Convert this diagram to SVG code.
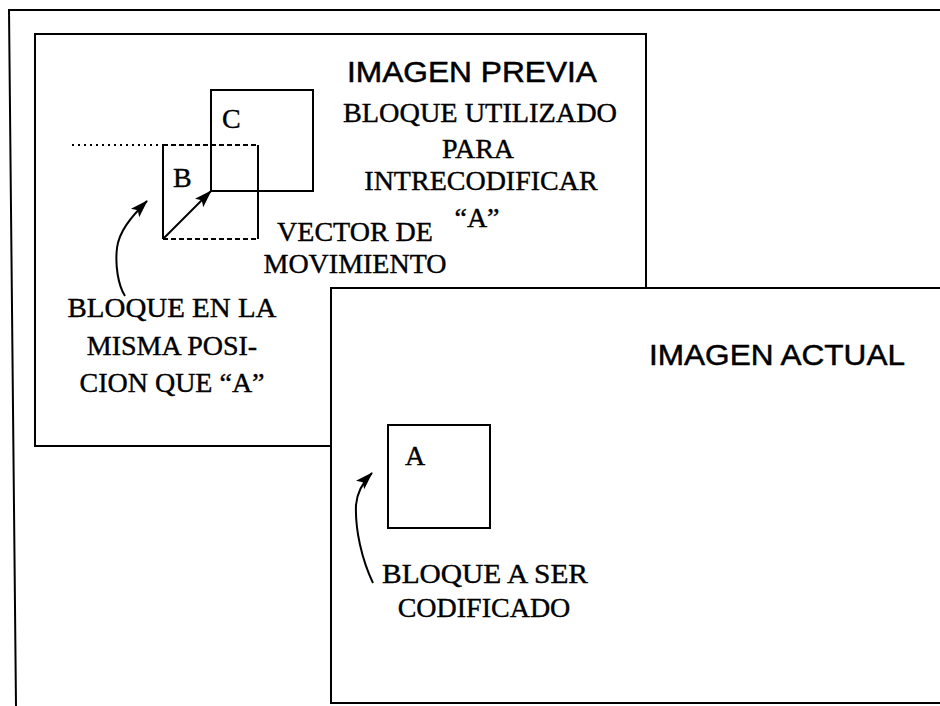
<svg xmlns="http://www.w3.org/2000/svg" width="940" height="706" viewBox="0 0 940 706">
<style>
.ln{fill:none;stroke:#000;stroke-width:2}
.box{fill:#fff;stroke:#000;stroke-width:2}
.sans{font-family:"Liberation Sans",Arial,sans-serif;fill:#000;stroke:#000;stroke-width:0.5}
.serif{font-family:"Liberation Serif","Times New Roman",serif;font-size:28px;fill:#000;stroke:#000;stroke-width:0.4}
.mid{text-anchor:middle}
</style>
<defs>
<marker id="ah" markerUnits="userSpaceOnUse" markerWidth="20" markerHeight="14" refX="17" refY="6" orient="auto">
<path d="M0,0 L18,6 L0,12 L4,6 Z" fill="#000"/>
</marker>
</defs>
<rect width="940" height="706" fill="#fff"/>
<g id="outer-frame">
<path class="ln" d="M 950 10 L 9 10 L 16 706"/>
</g>
<g id="imagen-previa">
<rect class="box" x="35" y="34" width="611" height="412"/>
<text class="sans" x="347" y="82" font-size="29" textLength="250" lengthAdjust="spacingAndGlyphs">IMAGEN PREVIA</text>
</g>
<g id="block-c">
<rect class="ln" x="211" y="90" width="102" height="101"/>
<text class="serif" x="222" y="128">C</text>
</g>
<g id="block-b">
<line class="ln" x1="163" y1="145" x2="163" y2="239"/>
<line class="ln" x1="258" y1="145" x2="258" y2="239"/>
<line class="ln" x1="163" y1="145" x2="258" y2="145" stroke-dasharray="5 3"/>
<line class="ln" x1="163" y1="239" x2="258" y2="239" stroke-dasharray="5 3"/>
<text class="serif" x="173" y="187">B</text>
</g>
<g id="label-bloque-utilizado">
<text class="serif mid" x="480" y="122" textLength="274" lengthAdjust="spacingAndGlyphs">BLOQUE UTILIZADO</text>
<text class="serif mid" x="478" y="158">PARA</text>
<text class="serif mid" x="481" y="190">INTRECODIFICAR</text>
<text class="serif mid" x="477" y="227">“A”</text>
</g>
<g id="label-vector">
<text class="serif mid" x="355" y="241">VECTOR DE</text>
<text class="serif mid" x="355" y="273">MOVIMIENTO</text>
</g>
<g id="label-misma-posicion">
<text class="serif mid" x="172" y="317" textLength="209" lengthAdjust="spacingAndGlyphs">BLOQUE EN LA</text>
<text class="serif mid" x="172" y="355">MISMA POSI-</text>
<text class="serif mid" x="172" y="392">CION QUE “A”</text>
</g>
<g id="imagen-actual">
<rect class="box" x="331" y="288" width="700" height="415"/>
<text class="sans" x="649" y="365" font-size="30" textLength="256" lengthAdjust="spacingAndGlyphs">IMAGEN ACTUAL</text>
</g>
<g id="block-a">
<rect class="ln" x="388" y="425" width="102" height="103"/>
<text class="serif" x="405" y="465">A</text>
</g>
<g id="label-bloque-a-ser">
<text class="serif mid" x="485" y="583" textLength="206" lengthAdjust="spacingAndGlyphs">BLOQUE A SER</text>
<text class="serif mid" x="484" y="617">CODIFICADO</text>
</g>
<g id="connectors">
<line x1="72" y1="145" x2="163" y2="145" stroke="#000" stroke-width="2" stroke-dasharray="2 4"/>
<line class="ln" x1="163" y1="239" x2="211" y2="191" marker-end="url(#ah)"/>
<path class="ln" d="M 125 296 C 118 285, 115 265, 117 248 C 119 232, 130 218, 147 201" marker-end="url(#ah)"/>
<path class="ln" d="M 373 583 C 362 560, 355 530, 356 505 C 357 493, 362 483, 372 473" marker-end="url(#ah)"/>
</g>
</svg>
